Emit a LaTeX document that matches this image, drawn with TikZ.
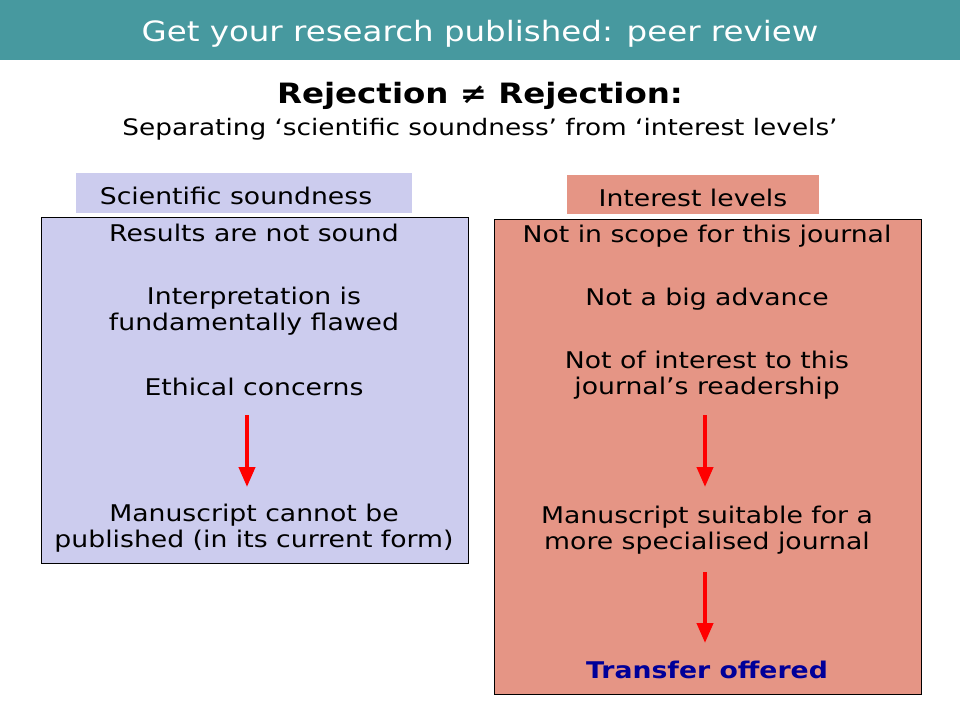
\documentclass[tikz,border=0pt]{standalone}
\usepackage{fontspec}
\setmainfont{DejaVu Sans}[FakeStretch=1.16]
\usetikzlibrary{arrows.meta}
\definecolor{headteal}{HTML}{47999F}
\definecolor{lavender}{HTML}{CCCCEE}
\definecolor{salmon}{HTML}{E59585}
\definecolor{darkblue}{HTML}{000099}
\tikzset{
  body/.style={align=center, inner sep=0pt, font=\fontsize{23}{26}\selectfont},
  downarrow/.style={red, line width=4pt, -{Triangle[width=16pt,length=20pt]}}
}

\begin{document}
\begin{tikzpicture}[x=1pt, y=-1pt]
				\useasboundingbox (0,0) rectangle (960,720);
				% Header
				\fill[headteal] (0,0) rectangle (960,60);
				\node[white, font=\fontsize{28}{32}\selectfont] (title) at (480,34) {Get your research published: peer review};
				
				\node[font=\bfseries\fontsize{28}{32}\selectfont] (heading) at (480,96) {Rejection ≠ Rejection:};
				\node[font=\fontsize{22.7}{26}\selectfont] (subheading) at (480,129) {Separating ‘scientific soundness’ from ‘interest levels’};
				
				% Boxes
				\fill[lavender] (76,173) rectangle (412,213);
				\node[body] (soundlabel) at (236,196) {Scientific soundness};
				\fill[salmon] (567,175) rectangle (819,214);
				\node[body] (interestlabel) at (693,198) {Interest levels};
				
				\draw[fill=lavender] (41,217) rectangle (468,563);
				\draw[fill=salmon] (494,219) rectangle (921,694);
				
				% Left column
				\node[body] (results) at (254,233) {Results are not sound};
				\node[body] (interp) at (254,311) {Interpretation is\\fundamentally flawed};
				\node[body] (ethics) at (254,387) {Ethical concerns};
				\node[body] (cannot) at (254,528) {Manuscript cannot be\\published (in its current form)};
				
				% Right column
				\node[body] (scope) at (707,236) {Not in scope for this journal};
				\node[body] (advance) at (707,299) {Not a big advance};
				\node[body] (readers) at (707,375) {Not of interest to this\\journal’s readership};
				\node[body] (suitable) at (707,530) {Manuscript suitable for a\\more specialised journal};
				\node[body, font=\bfseries\fontsize{23}{26}\selectfont, darkblue] (transfer) at (707,670) {Transfer offered};
				
				% Arrows
				\coordinate (la) at (247,415);
				\coordinate (lb) at (247,487);
				\coordinate (ra) at (705,415);
				\coordinate (rb) at (705,487);
				\coordinate (rc) at (705,572);
				\coordinate (rd) at (705,643);
				\draw[downarrow] (la) -- (lb);
				\draw[downarrow] (ra) -- (rb);
				\draw[downarrow] (rc) -- (rd);
			\end{tikzpicture}
\end{document}
